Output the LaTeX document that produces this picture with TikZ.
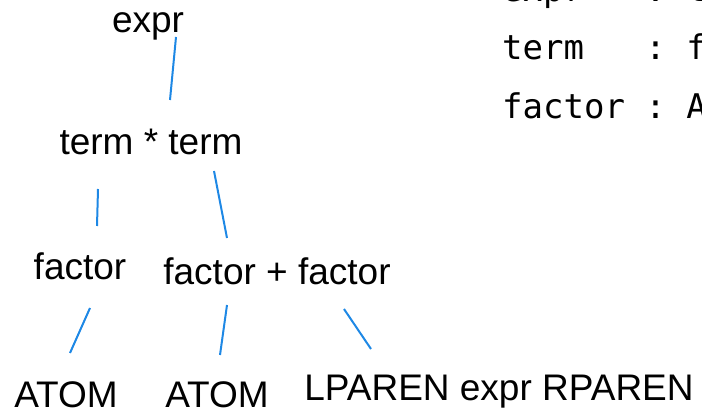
\documentclass[tikz,border=0pt]{standalone}
\usepackage{fontspec}
\setmainfont{Liberation Sans}
\setmonofont{DejaVu Sans Mono}
\definecolor{treeblue}{RGB}{30,136,229}
\begin{document}
\begin{tikzpicture}[x=1pt,y=-1pt,
    rule/.style={font=\fontsize{37}{42}\selectfont,inner sep=0pt,anchor=base},
    grammar/.style={font=\ttfamily\fontsize{34}{40}\selectfont,inner sep=0pt,anchor=base west},
    branch/.style={draw=treeblue,line width=2pt}]
    \useasboundingbox (0,0) rectangle (702,411);
    \clip (0,0) rectangle (702,411);
    % --- grammar on the right ---
    \node[grammar] (gexpr)   at (502,2)   {expr~~~: term};
    \node[grammar] (gterm)   at (502,60)  {term~~~: factor};
    \node[grammar] (gfactor) at (502,119) {factor : ATOM};
    % --- parse tree ---
    \node[rule] (expr)    at (148,33)  {expr};
    \node[rule] (mul)     at (151,155) {term * term};
    \node[rule] (fleft)   at (80,280)  {factor};
    \node[rule] (add)     at (277,285) {factor + factor};
    \node[rule] (atomA)   at (66,408)  {ATOM};
    \node[rule] (atomB)   at (217,408) {ATOM};
    \node[rule] (paren)   at (499,401) {LPAREN expr RPAREN};
    % end points of the branches
    \coordinate (e1) at (176,37);  \coordinate (e2) at (170,100);
    \coordinate (l1) at (98,189);  \coordinate (l2) at (97,226);
    \coordinate (r1) at (214,171); \coordinate (r2) at (227,238);
    \coordinate (a1) at (90,308);  \coordinate (a2) at (70,353);
    \coordinate (b1) at (227,305); \coordinate (b2) at (220,355);
    \coordinate (c1) at (344,309); \coordinate (c2) at (371,349);
    \draw[branch] (e1) -- (e2);
    \draw[branch] (l1) -- (l2);
    \draw[branch] (r1) -- (r2);
    \draw[branch] (a1) -- (a2);
    \draw[branch] (b1) -- (b2);
    \draw[branch] (c1) -- (c2);
\end{tikzpicture}
\end{document}
